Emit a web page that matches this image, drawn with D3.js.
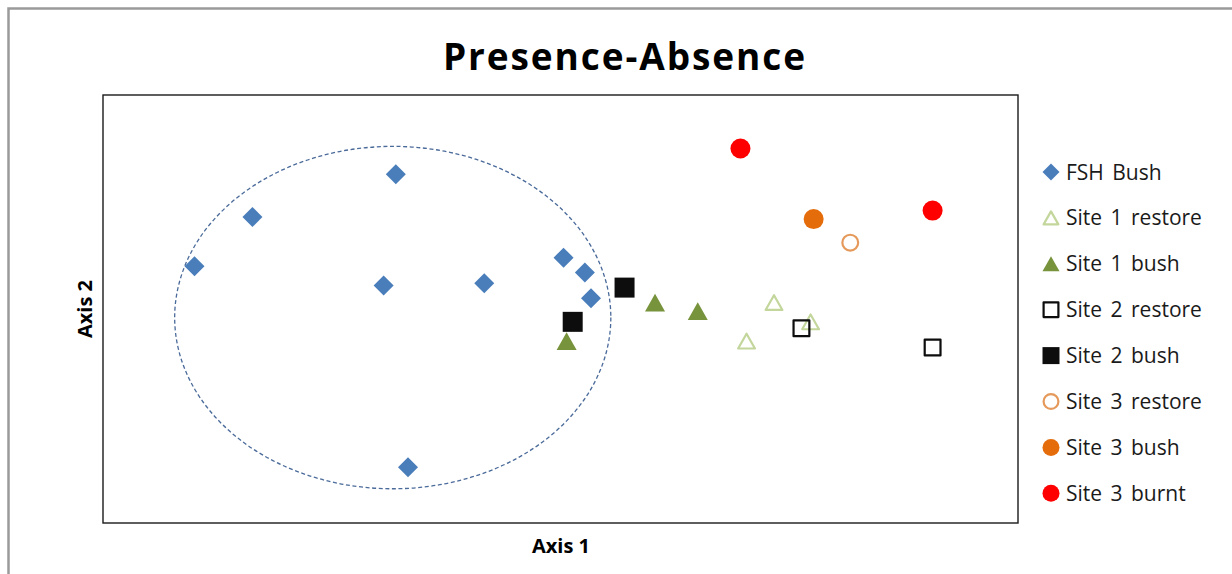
<!DOCTYPE html>
<html><head><meta charset="utf-8">
<script src="https://cdn.jsdelivr.net/npm/d3@7"></script>
<style>body{margin:0;background:#fff}svg{display:block}</style>
</head><body>
<script>
// ---- data (ordination scores) ----
const seriesNames = ["FSH Bush","Site 1 restore","Site 1 bush","Site 2 restore","Site 2 bush","Site 3 restore","Site 3 bush","Site 3 burnt"];
const fshBushX = [-0.54,-1.01,-1.20,-0.58,-0.25,0.01,0.08,0.10,-0.50];
const fshBushY = [0.63,0.43,0.20,0.11,0.12,0.24,0.17,0.05,-0.74];
const site1RestoreX = [0.70,0.82,0.61];
const site1RestoreY = [0.03,-0.06,-0.15];
const site1BushX = [0.02,0.31,0.45];
const site1BushY = [-0.15,0.03,-0.01];
const site2RestoreX = [0.79,1.22];
const site2RestoreY = [-0.09,-0.18];
const site2BushX = [0.04,0.21];
const site2BushY = [-0.06,0.10];
const site3RestoreX = [0.95];
const site3RestoreY = [0.31];
const site3BushX = [0.83];
const site3BushY = [0.42];
const site3BurntX = [0.59,1.22];
const site3BurntY = [0.75,0.46];
const ellipseCenter = [-0.55,-0.04];
const ellipseRadii = [0.715,0.80];
const xDomain = [-1.5,1.5];
const yDomain = [-1,1];
const titleText = "Presence-Absence";
const xLabel = "Axis 1";
const yLabel = "Axis 2";

// ---- styles ----
const styles = [
  {shape:"diamond", fill:"#4A7EBB", stroke:"none", size:20},
  {shape:"triangle", fill:"none", stroke:"#C3D69B", size:19},
  {shape:"triangle", fill:"#77933C", stroke:"none", size:20},
  {shape:"square", fill:"none", stroke:"#0d0d0d", size:18},
  {shape:"square", fill:"#0d0d0d", stroke:"none", size:20},
  {shape:"circle", fill:"none", stroke:"#E59A5B", size:18},
  {shape:"circle", fill:"#E46C0A", stroke:"none", size:20},
  {shape:"circle", fill:"#FF0000", stroke:"none", size:20}
];
const seriesX = [fshBushX,site1RestoreX,site1BushX,site2RestoreX,site2BushX,site3RestoreX,site3BushX,site3BurntX];
const seriesY = [fshBushY,site1RestoreY,site1BushY,site2RestoreY,site2BushY,site3RestoreY,site3BushY,site3BurntY];

const W = 1232, H = 574;
const plot = {l:103, r:1018, t:95, b:523};
const svg = d3.select("body").append("svg").attr("width",W).attr("height",H);

svg.append("rect").attr("x",8.5).attr("y",8.5).attr("width",1240).attr("height",1240)
  .attr("fill","#fff").attr("stroke","#9a9a9a").attr("stroke-width",2.5);

const x = d3.scaleLinear().domain(xDomain).range([plot.l,plot.r]);
const y = d3.scaleLinear().domain(yDomain).range([plot.b,plot.t]);

svg.append("rect").attr("x",plot.l).attr("y",plot.t)
  .attr("width",plot.r-plot.l).attr("height",plot.b-plot.t)
  .attr("fill","#fff").attr("stroke","#1a1a1a").attr("stroke-width",1.4);

// ellipse
svg.append("ellipse")
  .attr("cx",x(ellipseCenter[0])).attr("cy",y(ellipseCenter[1]))
  .attr("rx",x(ellipseCenter[0]+ellipseRadii[0])-x(ellipseCenter[0]))
  .attr("ry",y(ellipseCenter[1])-y(ellipseCenter[1]+ellipseRadii[1]))
  .attr("fill","none").attr("stroke","#4a6a9a").attr("stroke-width",1.3)
  .attr("stroke-dasharray","4,2.6");

function shapePath(shape,s){
  const h=s/2;
  if(shape==="diamond") return `M0,${-h}L${h},0L0,${h}L${-h},0Z`;
  if(shape==="square") return `M${-h},${-h}H${h}V${h}H${-h}Z`;
  const th=s*0.88; return `M0,${-th/2}L${h},${th/2}L${-h},${th/2}Z`;
}
function drawMarker(g,st,cx,cy){
  const strokeW = st.stroke==="none"?0:2.2;
  if(st.shape==="circle"){
    const r = st.stroke==="none"? st.size/2 : st.size/2 - 1.1;
    g.append("circle").attr("cx",cx).attr("cy",cy).attr("r",r)
      .attr("fill",st.fill).attr("stroke",st.stroke).attr("stroke-width",strokeW);
  } else {
    const s = st.stroke==="none"? st.size : st.size-2.2;
    g.append("path").attr("d",shapePath(st.shape,s)).attr("transform",`translate(${cx},${cy})`)
      .attr("fill",st.fill).attr("stroke",st.stroke).attr("stroke-width",strokeW)
      .attr("stroke-linejoin","round");
  }
}

const pts = svg.append("g");
seriesX.forEach((xs,i)=>{
  xs.forEach((v,j)=>drawMarker(pts,styles[i],x(v),y(seriesY[i][j])));
});

// title & labels
const font = "'Open Sans', Lato, sans-serif";
svg.append("text").attr("x",624).attr("y",70).attr("text-anchor","middle")
  .attr("font-family",font).attr("font-weight","bold").attr("font-size",37).attr("fill","#000")
  .attr("textLength",362).attr("lengthAdjust","spacing").text(titleText);
svg.append("text").attr("x",561).attr("y",553).attr("text-anchor","middle")
  .attr("font-family",font).attr("font-weight","bold").attr("font-size",20).attr("fill","#000").text(xLabel);
svg.append("text").attr("transform","translate(92,309) rotate(-90)").attr("text-anchor","middle")
  .attr("font-family",font).attr("font-weight","bold").attr("font-size",20).attr("fill","#000").text(yLabel);

// legend
const leg = svg.append("g");
seriesNames.forEach((n,i)=>{
  const cy = 172 + i*45.9;
  const st = Object.assign({},styles[i],{size:Math.min(styles[i].size,17)});
  drawMarker(leg,st,1051,cy);
  leg.append("text").attr("x",1066).attr("y",cy+7.5).attr("font-family",font)
    .attr("font-size",21).attr("fill","#1a1a1a").attr("word-spacing",3).text(n);
});
</script>
</body></html>
